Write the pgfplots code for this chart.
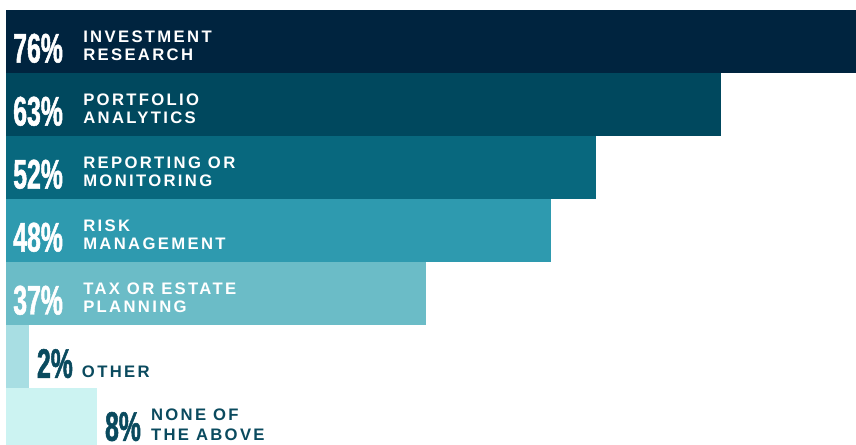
\documentclass[border=0pt]{standalone}
\usepackage{pgfplots}
\pgfplotsset{compat=1.18}
\usepackage{fontspec}
\setmainfont{Liberation Sans}
\newfontfamily\numfont{Liberation Sans}[FakeStretch=0.6, FakeBold=1.2]
\newfontfamily\labfont{Liberation Sans}[LetterSpace=14]
\definecolor{c1}{HTML}{00243F}
\definecolor{c2}{HTML}{00485E}
\definecolor{c3}{HTML}{08687E}
\definecolor{c4}{HTML}{2E9AAF}
\definecolor{c5}{HTML}{6BBCC7}
\definecolor{c6}{HTML}{A8DEE3}
\definecolor{c7}{HTML}{CCF3F2}
\definecolor{lab}{HTML}{0A4A5E}
\tikzset{
  num/.style={anchor=base west, inner sep=0pt, font=\numfont\bfseries\fontsize{31}{31}\selectfont},
  lab/.style={anchor=base west, inner sep=0pt, font=\labfont\bfseries\fontsize{12.5}{12.5}\selectfont},
}
\begin{document}
\begin{tikzpicture}
\begin{axis}[
  width=642pt, height=333.75pt, scale only axis,
  xmin=-0.529, xmax=74.9, ymin=-0.659, ymax=6.405,
  y dir=reverse, axis lines=none, xbar, bar width=1, bar shift=0pt,
  clip=true,
]
\addplot[fill=c1, draw=none] coordinates {(76,0)};
\addplot[fill=c2, draw=none] coordinates {(63,1)};
\addplot[fill=c3, draw=none] coordinates {(52,2)};
\addplot[fill=c4, draw=none] coordinates {(48,3)};
\addplot[fill=c5, draw=none] coordinates {(37,4)};
\addplot[fill=c6, draw=none] coordinates {(2,5)};
\addplot[fill=c7, draw=none] coordinates {(8,6)};
% big bars
\node[num, text=white, xshift=5.25pt, yshift=-15.75pt] at (axis cs:0,0) {76\%};
\node[lab, text=white, xshift=57.75pt, yshift=-0.75pt] at (axis cs:0,0) {INVESTMENT};
\node[lab, text=white, xshift=57.75pt, yshift=-14.25pt] at (axis cs:0,0) {RESEARCH};
\node[num, text=white, xshift=5.25pt, yshift=-15.75pt] at (axis cs:0,1) {63\%};
\node[lab, text=white, xshift=57.75pt, yshift=-0.75pt] at (axis cs:0,1) {PORTFOLIO};
\node[lab, text=white, xshift=57.75pt, yshift=-14.25pt] at (axis cs:0,1) {ANALYTICS};
\node[num, text=white, xshift=5.25pt, yshift=-15.75pt] at (axis cs:0,2) {52\%};
\node[lab, text=white, xshift=57.75pt, yshift=-0.75pt] at (axis cs:0,2) {REPORTING OR};
\node[lab, text=white, xshift=57.75pt, yshift=-14.25pt] at (axis cs:0,2) {MONITORING};
\node[num, text=white, xshift=5.25pt, yshift=-15.75pt] at (axis cs:0,3) {48\%};
\node[lab, text=white, xshift=57.75pt, yshift=-0.75pt] at (axis cs:0,3) {RISK};
\node[lab, text=white, xshift=57.75pt, yshift=-14.25pt] at (axis cs:0,3) {MANAGEMENT};
\node[num, text=white, xshift=5.25pt, yshift=-15.75pt] at (axis cs:0,4) {37\%};
\node[lab, text=white, xshift=57.75pt, yshift=-0.75pt] at (axis cs:0,4) {TAX OR ESTATE};
\node[lab, text=white, xshift=57.75pt, yshift=-14.25pt] at (axis cs:0,4) {PLANNING};
% small bars
\node[num, text=lab, xshift=6pt, yshift=-16pt] at (axis cs:2,5) {2\%};
\node[lab, text=lab, xshift=39.75pt, yshift=-15.4pt] at (axis cs:2,5) {OTHER};
\node[num, text=lab, xshift=6pt, yshift=-16pt] at (axis cs:8,6) {8\%};
\node[lab, text=lab, xshift=40.5pt, yshift=-0.4pt] at (axis cs:8,6) {NONE OF};
\node[lab, text=lab, xshift=40.5pt, yshift=-15.4pt] at (axis cs:8,6) {THE ABOVE};
\end{axis}
\path[use as bounding box] (current axis.south west) rectangle (current axis.north east);
\end{tikzpicture}
\end{document}
